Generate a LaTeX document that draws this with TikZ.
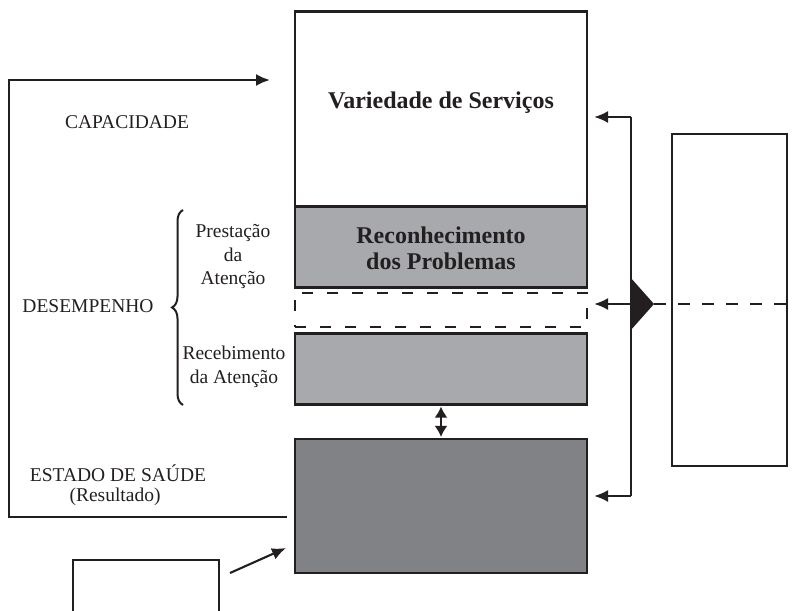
\documentclass[tikz,border=0pt]{standalone}
\usepackage{fontspec}
\setmainfont{Liberation Serif}
\usetikzlibrary{arrows.meta,decorations.pathreplacing}
\definecolor{lgray}{HTML}{A7A9AC}
\definecolor{dgray}{HTML}{808285}
\definecolor{ink}{HTML}{231F20}
\begin{document}
\begin{tikzpicture}[x=1pt,y=-1pt,line width=2.1pt,draw=ink,
  box/.style={draw=ink,rectangle,inner sep=0pt,minimum width=292pt,align=center},
  lbl/.style={font=\fontsize{19.5}{23.5}\selectfont,align=center,inner sep=0pt,text=ink},
  btxt/.style={font=\fontsize{24}{26}\selectfont\bfseries,align=center,inner sep=0pt,text=ink},
  arr/.style={-{Latex[length=14pt,width=12pt]}},
  darr/.style={{Latex[length=11pt,width=13pt]}-{Latex[length=11pt,width=13pt]}},
  dashline/.style={dash pattern=on 12pt off 12pt},
  dashbox/.style={dash pattern=on 11pt off 14pt}]
\useasboundingbox (0,0) rectangle (794,610);
% central column
\node[box,minimum height=195pt] (serv) at (441,109) {};
\node[btxt] (servtxt) at (441,103) {Variedade de Serviços};
\node[box,fill=lgray,minimum height=81pt] (recon) at (441,247) {};
\node[btxt] (recontxt) at (441,248) {Reconhecimento\\dos Problemas};
\node[box,dashbox,minimum height=34pt] (dbox) at (441,310) {};
\node[box,fill=lgray,minimum height=71pt] (receb) at (441,369) {};
\node[box,fill=dgray,minimum height=134pt] (bot) at (441,506) {};
\draw[darr,shorten <=1pt,shorten >=1pt] (receb.south) -- (bot.north);
% right side
\node[draw=ink,rectangle,inner sep=0pt,minimum width=115pt,minimum height=332pt] (rbox) at (729.5,300) {};
\coordinate (busT) at (631,117);
\coordinate (busM) at (631,304);
\coordinate (busB) at (631,496);
\draw (busT) -- (busB);
\draw[arr,shorten >=6pt] (busT) -- (busT -| serv.east);
\draw[arr,shorten >=6pt] (busM) -- (busM -| dbox.east);
\draw[arr,shorten >=6pt] (busB) -- (busB -| bot.east);
\fill[ink] (630,277) -- (654,304) -- (630,331) -- cycle;
\coordinate (tri) at (654,304);
\coordinate (dashEnd) at (794,304);
\draw[dashline] (tri) -- (dashEnd);
% left loop
\coordinate (loopS) at (287,517);
\coordinate (loopE) at (270,80);
\draw[arr] (loopS) -- (9,517) -- (9,80) -- (loopE);
% small box
\node[draw=ink,rectangle,inner sep=0pt,minimum width=146pt,minimum height=80pt] (small) at (146,600) {};
\coordinate (sA) at (230,573);
\coordinate (sB) at (286,548);
\draw[arr] (sA) -- (sB);
% brace
\draw[decorate,decoration={brace,amplitude=11pt},line width=2pt] (183,405) -- (183,210);
% labels
\node[lbl] (cap) at (127,122) {CAPACIDADE};
\node[lbl] (des) at (88,306) {DESEMPENHO};
\node[lbl] (prest) at (233,257) {Prestação\\da\\Atenção};
\node[lbl] (recl) at (234,367) {Recebimento\\da Atenção};
\node[lbl] (est) at (118,473) {ESTADO DE SAÚDE};
\node[lbl] (res) at (115,497) {(Resultado)};
\end{tikzpicture}
\end{document}
